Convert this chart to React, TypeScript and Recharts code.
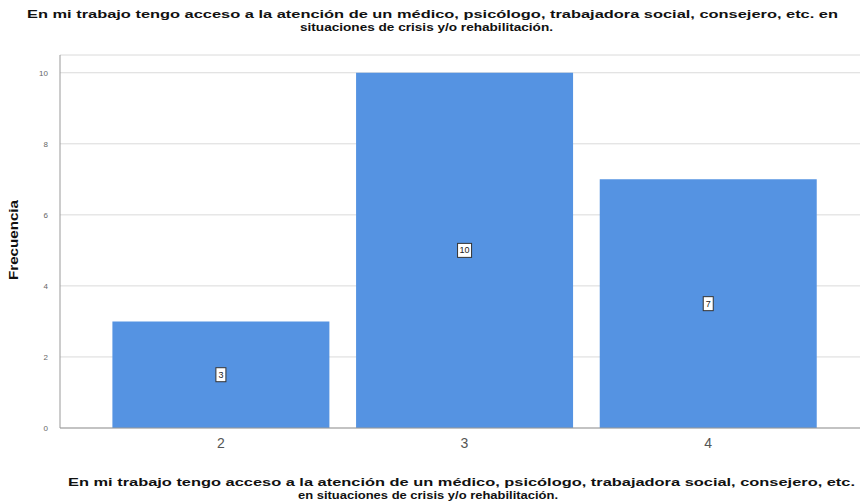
import { BarChart, Bar, XAxis, YAxis, CartesianGrid, LabelList } from "recharts";

const categories = ["2", "3", "4"];
const frecuencias = [3, 10, 7];
const yTicks = [0, 2, 4, 6, 8, 10];

const titleLine1 =
  "En mi trabajo tengo acceso a la atención de un médico, psicólogo, trabajadora social, consejero, etc. en";
const titleLine2 = "situaciones de crisis y/o rehabilitación.";
const xTitleLine1 =
  "En mi trabajo tengo acceso a la atención de un médico, psicólogo, trabajadora social, consejero, etc.";
const xTitleLine2 = "en situaciones de crisis y/o rehabilitación.";

const data = categories.map((c, i) => ({ cat: c, value: frecuencias[i] }));

// eslint-disable-next-line @typescript-eslint/no-explicit-any
function BoxLabel(props: any) {
  const { x, y, width, height, value } = props;
  const cx = x + width / 2;
  const cy = y + height / 2;
  const w = String(value).length > 1 ? 14 : 10;
  return (
    <g>
      <rect
        x={cx - w / 2}
        y={cy - 7}
        width={w}
        height={14}
        fill="#ffffff"
        stroke="#333"
        strokeWidth={1}
      />
      <text
        x={cx}
        y={cy + 3}
        textAnchor="middle"
        fontSize={9}
        fontFamily="Liberation Sans, Arial, sans-serif"
        fill="#222"
      >
        {value}
      </text>
    </g>
  );
}

export default function App() {
  const font = "Liberation Sans, Arial, sans-serif";
  const titleStyle = {
    fontSize: 11.5,
    fontWeight: "bold" as const,
    fill: "#111",
  };
  return (
    <div
      style={{
        position: "absolute",
        left: 0,
        top: 0,
        width: 860,
        height: 503,
        background: "#fff",
      }}
    >
      <BarChart
        width={860}
        height={503}
        data={data}
        margin={{ top: 55, right: 0, left: 0, bottom: 0 }}
        barCategoryGap="5.5%"
      >
        <CartesianGrid vertical={false} stroke="#dadada" />
        <XAxis
          dataKey="cat"
          height={75}
          padding={{ left: 39, right: 30 }}
          tickLine={false}
          axisLine={{ stroke: "#999" }}
          tick={{ fontSize: 14, fill: "#555", fontFamily: font }}
          tickMargin={4}
        />
        <YAxis
          width={60}
          domain={[0, 10.5]}
          ticks={yTicks}
          tickLine={false}
          axisLine={{ stroke: "#999" }}
          tick={{ fontSize: 8, fill: "#666", fontFamily: font }}
          tickMargin={6}
        />
        <Bar dataKey="value" fill="#5593e2" isAnimationActive={false}>
          <LabelList dataKey="value" content={<BoxLabel />} />
        </Bar>
      </BarChart>
      <svg
        width={860}
        height={503}
        style={{ position: "absolute", left: 0, top: 0, pointerEvents: "none" }}
        fontFamily={font}
      >
        <text x={27} y={18} textLength={811} lengthAdjust="spacingAndGlyphs" {...titleStyle}>
          {titleLine1}
        </text>
        <text x={300} y={31} textLength={253} lengthAdjust="spacingAndGlyphs" {...titleStyle}>
          {titleLine2}
        </text>
        <text
          x={18}
          y={240}
          textAnchor="middle"
          fontSize={13}
          fontWeight="bold"
          fill="#111"
          textLength={80}
          lengthAdjust="spacingAndGlyphs"
          transform="rotate(-90 18 240)"
        >
          Frecuencia
        </text>
        <text x={68} y={486} textLength={787} lengthAdjust="spacingAndGlyphs" {...titleStyle}>
          {xTitleLine1}
        </text>
        <text x={298} y={499} textLength={260} lengthAdjust="spacingAndGlyphs" {...titleStyle}>
          {xTitleLine2}
        </text>
      </svg>
    </div>
  );
}
